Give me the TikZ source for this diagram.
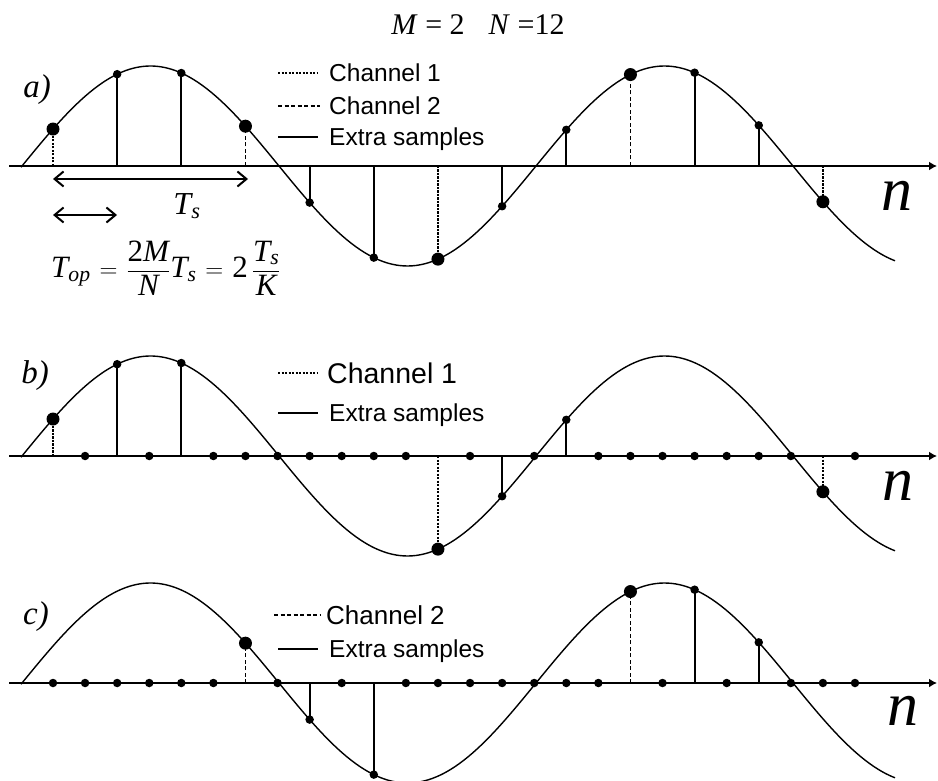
\documentclass[tikz,border=0pt]{standalone}
\usepackage{amsmath}
\usepackage{fontspec}
\setmainfont{Liberation Serif}
\newfontfamily\legendfont{Liberation Sans}
\usetikzlibrary{arrows.meta,positioning}
\newcommand\mi[1]{\mathit{#1}}
\newcommand\meq{\mathord{\hspace{9pt}\mathrm{=}\hspace{9pt}}}

\begin{document}
\begin{tikzpicture}[x=1pt,y=-1pt,
  axis/.style={line width=2pt,-{Latex[length=8pt,width=9pt]}},
  wave/.style={line width=1.4pt},
  stem/.style={line width=1.8pt},
  chone/.style={line width=2pt,dash pattern=on 2.2pt off 1.3pt},
  chtwo/.style={line width=1.8pt,dash pattern=on 4pt off 2.5pt},
  big/.style={circle,fill,inner sep=0pt,minimum size=13pt},
  small/.style={circle,fill,inner sep=0pt,minimum size=8.5pt},
  legend/.style={font=\legendfont\fontsize{24.5}{28}\selectfont,inner sep=0pt,text height=17.5pt,text depth=0pt},
  panel/.style={font=\fontsize{33}{36}\selectfont\itshape,inner sep=0pt},
  nlabel/.style={font=\fontsize{62}{66}\selectfont\itshape,inner sep=0pt},
  period/.style={line width=2pt,{Straight Barb[length=9pt,width=15pt]}-{Straight Barb[length=9pt,width=15pt]}}
]
\useasboundingbox (0,0) rectangle (938,781);

\foreach \ay/\p in {166/a,456/b,683/c}{
  \draw[axis] (9,\ay) -- (937,\ay);
  \draw[wave] plot[domain=21:895,samples=220,smooth] (\x,{\ay-100*sin(0.70039*(\x-22))});
}

\foreach \ay/\p/\sty/\dot/\ks in {166/a/chone/big/{0,12,24},166/a/chtwo/big/{6,18},
    166/a/stem/small/{2,4,8,10,14,16,20,22},
    456/b/chone/big/{0,12,24},456/b/stem/small/{2,4,14,16},
    683/c/chtwo/big/{6,18},683/c/stem/small/{8,10,20,22}}{
  \foreach \k in \ks{
    \pgfmathsetmacro\sx{53+32.08*\k}
    \pgfmathsetmacro\sy{\ay-100*sin(0.70039*(\sx-22))}
    \coordinate (o\p\k) at (\sx,\ay);
    \node[\dot] (s\p\k) at (\sx,\sy) {};
    \draw[\sty] (o\p\k) -- (s\p\k.center);
  }
}

\foreach \ay/\p/\ks in {456/b/{1,3,5,6,7,8,9,10,11,13,15,17,18,19,20,21,22,23,25},
    683/c/{0,1,2,3,4,5,7,9,11,12,13,14,15,16,17,19,21,23,24,25}}{
  \foreach \k in \ks{
    \pgfmathsetmacro\sx{53+32.08*\k}
    \node[small] (z\p\k) at (\sx,\ay) {};
  }
}

\node[font=\fontsize{30}{34}\selectfont] (title) at (478,25) {\textit{M} = 2\hspace{24pt}\textit{N} =12};

\node[panel] (pa) at (37,90) {a)};
\node[panel] (pb) at (35,376) {b)};
\node[panel] (pc) at (36,617) {c)};
\node[nlabel] (na) at (897,196) {n};
\node[nlabel] (nb) at (898,486) {n};
\node[nlabel] (nc) at (903,711) {n};

\coordinate (a1s) at (278,73);  \coordinate (a1e) at (317,73);
\coordinate (a2s) at (278,106); \coordinate (a2e) at (320,106);
\coordinate (a3s) at (278,137); \coordinate (a3e) at (318,137);
\draw[chone] (a1s) -- (a1e);
\draw[chtwo] (a2s) -- (a2e);
\draw[stem] (a3s) -- (a3e);
\node[legend,right=12pt of a1e] (a1t) {Channel 1};
\node[legend,right=9pt of a2e] (a2t) {Channel 2};
\node[legend,right=11pt of a3e] (a3t) {Extra samples};

\coordinate (b1s) at (278,373); \coordinate (b1e) at (317,373);
\coordinate (b3s) at (278,413); \coordinate (b3e) at (318,413);
\draw[chone] (b1s) -- (b1e);
\draw[stem] (b3s) -- (b3e);
\node[legend,font=\legendfont\fontsize{28.5}{32}\selectfont,text height=20.5pt,right=10pt of b1e] (b1t) {Channel 1};
\node[legend,right=11pt of b3e] (b3t) {Extra samples};

\coordinate (c2s) at (274,615); \coordinate (c2e) at (320,615);
\coordinate (c3s) at (278,649); \coordinate (c3e) at (318,649);
\draw[chtwo] (c2s) -- (c2e);
\draw[stem] (c3s) -- (c3e);
\node[legend,font=\legendfont\fontsize{26}{30}\selectfont,text height=18.7pt,right=6pt of c2e] (c2t) {Channel 2};
\node[legend,right=11pt of c3e] (c3t) {Extra samples};

\coordinate (tsl) at (53,179); \coordinate (tsr) at (248,179);
\coordinate (tol) at (53,215); \coordinate (tor) at (117,215);
\draw[period] (tsl) -- (tsr);
\draw[period] (tol) -- (tor);
\node[font=\fontsize{32}{36}\selectfont] (ts) at (187,206) {$\mi{T}_{\mi{s}}$};
\node[font=\fontsize{31}{36}\selectfont,anchor=west,inner sep=0pt] (top) at (51,268)
  {$\mi{T}_{\mi{op}}\meq\dfrac{\mathrm{2}\mi{M}}{\mi{N}}\mi{T}_{\mi{s}}\meq\mathrm{2}\,\dfrac{\mi{T}_{\mi{s}}}{\mi{K}}$};
\end{tikzpicture}
\end{document}
